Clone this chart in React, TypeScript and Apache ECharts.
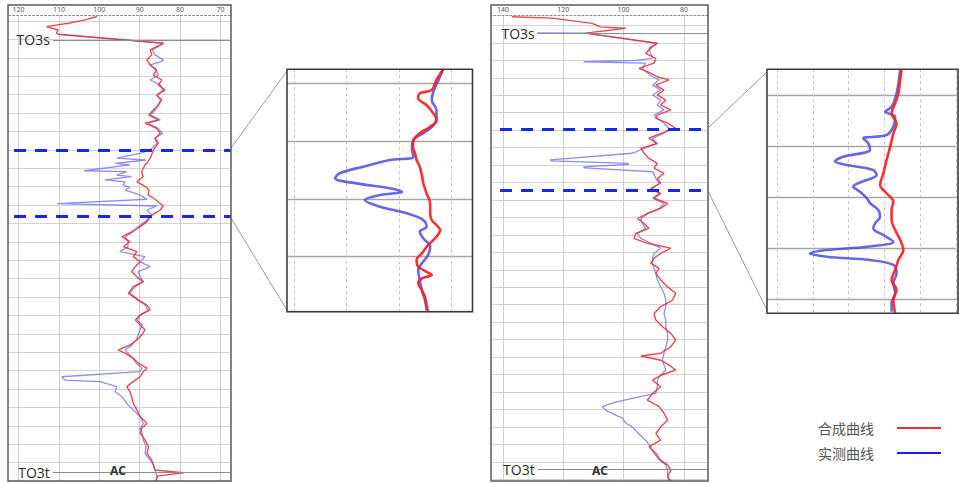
import { useEffect, useRef } from 'react';
import * as echarts from 'echarts';

// Well A (left log): [depth m below window top, AC]
const wellASynthetic: [number, number][] = [
  [0.5, 100.6], [1.6, 103.5], [2.6, 107.3], [3.8, 113.1], [4.9, 110.2], [5.9, 110.6], [6.3, 110.2],
  [9.2, 84.1], [10.3, 85.8], [11.4, 87.4], [13.0, 87.0], [14.7, 88.2], [15.3, 87.9], [16.3, 87.4],
  [17.9, 85.8], [19.6, 86.6], [21.2, 84.5], [22.8, 85.4], [24.5, 83.7], [26.1, 85.8], [27.7, 84.5],
  [29.4, 85.4], [31.0, 86.6], [32.6, 87.8], [34.2, 85.4], [35.3, 88.7], [37.0, 85.8], [38.6, 84.9],
  [40.2, 86.2], [41.8, 85.4], [44.0, 86.6], [45.1, 86.9], [46.7, 87.4], [47.3, 87.7], [48.4, 88.2],
  [48.9, 88.7], [50.8, 89.4], [51.1, 89.5], [52.2, 89.3], [52.7, 89.1], [53.8, 90.2], [54.4, 90.7],
  [55.5, 89.2], [56.2, 88.4], [57.1, 87.7], [58.7, 87.9], [60.1, 86.2], [61.5, 84.9], [62.3, 84.2],
  [63.6, 84.9], [65.2, 86.9], [67.4, 88.2], [69.1, 89.9], [70.7, 92.0], [72.3, 94.4], [73.9, 92.4],
  [75.6, 94.0], [77.2, 90.7], [78.8, 91.6], [80.5, 89.9], [82.1, 91.1], [83.7, 92.0], [85.4, 90.7],
  [87.0, 89.1], [88.6, 91.6], [90.8, 92.8], [93.0, 90.3], [94.6, 88.2], [96.2, 87.4], [97.9, 89.9],
  [99.5, 91.1], [101.1, 89.9], [102.7, 88.7], [104.4, 89.5], [106.0, 90.7], [107.6, 92.4], [109.3, 95.3],
  [110.3, 93.6], [112.0, 91.6], [113.6, 90.3], [115.2, 88.2], [116.3, 89.1], [118.0, 89.9], [119.6, 91.6],
  [121.2, 93.2], [122.9, 92.4], [124.5, 92.0], [126.7, 91.6], [128.8, 90.7], [131.0, 89.9], [133.2, 88.2],
  [134.8, 89.5], [136.4, 89.9], [138.6, 88.7], [140.8, 87.8], [143.0, 88.2], [145.2, 87.0], [146.8, 86.6],
  [148.4, 86.2], [149.3, 79.2], [150.4, 85.7], [152.0, 85.9],
];

const wellAMeasured: [number, number][] = [
  [6.3, 110.2], [9.2, 84.1], [10.3, 85.4], [11.4, 86.9], [13.0, 86.2], [14.7, 84.1], [15.3, 84.9],
  [16.3, 87.4], [17.9, 85.9], [19.6, 85.4], [21.2, 87.4], [22.8, 84.9], [24.5, 84.2], [26.1, 85.7],
  [27.7, 84.9], [29.4, 85.4], [31.0, 86.2], [32.6, 87.4], [34.2, 84.9], [35.3, 87.9], [37.0, 85.4],
  [38.6, 84.4], [40.2, 86.2], [41.8, 85.7], [44.0, 87.4], [45.1, 89.9], [46.7, 95.7], [47.3, 88.4],
  [48.4, 96.1], [48.9, 92.4], [50.8, 103.8], [51.1, 93.2], [52.2, 95.7], [52.7, 92.0], [53.8, 98.6],
  [54.4, 93.6], [55.5, 94.1], [56.2, 92.4], [57.1, 93.6], [58.7, 89.9], [60.1, 88.2], [61.5, 110.4],
  [62.3, 85.8], [63.6, 88.2], [65.2, 87.0], [67.4, 88.7], [69.1, 90.4], [70.7, 91.6], [72.3, 93.6],
  [73.9, 92.9], [75.6, 92.9], [77.2, 94.9], [78.8, 88.7], [80.5, 89.9], [82.1, 87.4], [83.7, 90.4],
  [85.4, 89.9], [87.0, 89.1], [88.6, 91.1], [90.8, 92.4], [93.0, 90.3], [94.6, 88.7], [96.2, 87.9],
  [97.9, 89.9], [99.5, 90.6], [101.1, 89.4], [102.7, 89.9], [104.4, 90.4], [106.0, 90.9], [107.6, 91.9],
  [109.3, 93.6], [110.3, 92.9], [112.0, 91.6], [113.6, 90.9], [115.2, 89.4], [116.3, 89.9], [118.0, 109.3],
  [119.1, 108.5], [119.6, 99.8], [121.2, 95.7], [122.9, 96.1], [124.5, 94.4], [126.7, 93.2], [128.8, 91.6],
  [131.0, 89.9], [133.2, 89.1], [134.8, 89.9], [136.4, 89.4], [138.6, 89.1], [140.8, 88.4], [143.0, 88.7],
  [145.2, 87.4], [146.8, 86.6], [148.4, 86.2], [150.4, 85.7], [152.0, 85.9],
];

// Well A, enlarged interval between the two marker lines
const wellAZoomSynthetic: [number, number][] = [
  [0, 81.5], [0.74, 82.8], [1.44, 83.7], [1.67, 86.0], [2.01, 86.3], [2.48, 84.7], [3.06, 83.4],
  [3.52, 82.8], [3.99, 84.0], [4.44, 86.0], [4.91, 87.2], [5.38, 87.3], [5.83, 86.9], [6.3, 86.6],
  [6.76, 86.0], [7.34, 85.6], [7.92, 85.3], [8.61, 84.7], [9.31, 84.0], [10.0, 84.0], [10.47, 83.7],
  [10.81, 82.8], [11.16, 82.1], [11.63, 82.8], [12.2, 84.4], [12.78, 85.6], [13.24, 86.6], [13.71, 86.3],
  [14.06, 84.7], [14.29, 83.7], [14.51, 85.6], [14.86, 86.3], [15.33, 85.6], [15.79, 85.0], [16.37, 84.7],
  [16.83, 84.4],
];

const wellAZoomMeasured: [number, number][] = [
  [0, 81.5], [0.74, 82.4], [1.56, 83.4], [2.13, 83.7], [2.83, 82.8], [3.52, 82.8], [4.22, 84.4],
  [4.91, 87.2], [5.49, 87.5], [6.07, 87.2], [6.3, 91.7], [6.76, 96.8], [7.22, 101.3], [7.57, 102.2],
  [7.92, 98.1], [8.26, 91.7], [8.5, 89.4], [8.73, 93.6], [9.08, 96.5], [9.54, 93.6], [10.0, 88.5],
  [10.47, 85.3], [10.93, 84.7], [11.28, 86.0], [11.74, 85.3], [12.32, 84.0], [12.9, 84.4], [13.47, 85.6],
  [13.94, 86.3], [14.63, 86.0], [15.33, 85.6], [16.02, 85.0], [16.72, 84.7],
];

// Well B (right log): [depth m below window top, AC]
const wellBSynthetic: [number, number][] = [
  [0.5, 137.1], [0.9, 123.8], [2.4, 110.4], [3.4, 107.7], [3.8, 99.3], [5.2, 112.7], [8.1, 88.8],
  [9.5, 91.0], [11.0, 92.7], [12.4, 89.3], [13.8, 89.9], [15.3, 94.9], [16.2, 92.1], [17.7, 88.8],
  [18.6, 84.9], [20.1, 89.3], [21.5, 86.6], [22.9, 88.8], [24.4, 86.0], [25.8, 87.7], [27.2, 84.3],
  [28.7, 88.8], [29.6, 89.3], [31.0, 85.4], [32.5, 82.7], [33.9, 87.7], [35.3, 91.6], [36.8, 88.8],
  [38.2, 94.3], [39.6, 93.2], [41.1, 91.6], [42.5, 88.8], [43.9, 89.9], [45.4, 86.6], [46.8, 88.8],
  [48.2, 87.7], [49.7, 91.0], [51.1, 87.7], [52.5, 89.9], [54.0, 85.4], [55.4, 87.7], [56.8, 92.1],
  [58.3, 95.4], [59.7, 93.2], [61.1, 91.6], [62.6, 96.0], [64.0, 96.6], [65.4, 92.1], [66.8, 84.3],
  [68.3, 87.7], [69.7, 89.9], [71.1, 91.0], [72.6, 88.2], [74.0, 89.3], [75.9, 87.7], [77.9, 85.4],
  [79.7, 82.7], [81.7, 83.8], [83.6, 87.7], [85.5, 89.9], [87.4, 89.3], [89.3, 87.1], [91.2, 84.3],
  [93.1, 82.7], [95.0, 84.3], [96.9, 87.7], [97.7, 94.3], [98.9, 87.7], [100.3, 84.9], [101.7, 82.7],
  [103.2, 87.7], [104.6, 90.4], [106.5, 87.7], [108.4, 90.4], [110.3, 92.1], [112.2, 88.2], [114.1, 86.6],
  [116.0, 85.4], [118.0, 87.7], [119.9, 89.3], [121.8, 87.7], [123.7, 91.6], [125.6, 89.3], [127.5, 87.7],
  [128.9, 85.4], [130.4, 84.3], [132.3, 85.4], [133.5, 84.3],
];

const wellBMeasured: [number, number][] = [
  [5.1, 128.7], [5.2, 112.7], [8.1, 88.8], [9.5, 91.6], [11.0, 91.0], [12.4, 90.4], [13.0, 96.0],
  [13.4, 113.3], [13.8, 92.7], [15.3, 93.8], [16.2, 92.7], [17.7, 90.4], [18.6, 88.2], [20.1, 90.4],
  [21.5, 87.7], [22.9, 90.4], [24.4, 87.7], [25.8, 88.8], [27.2, 86.6], [28.7, 89.9], [29.6, 88.8],
  [31.0, 86.6], [32.5, 84.9], [33.9, 86.6], [35.3, 90.4], [36.8, 89.3], [38.2, 93.2], [39.6, 97.1],
  [41.5, 124.3], [41.8, 124.0], [42.5, 98.3], [42.8, 98.4], [43.5, 113.3], [43.8, 113.0], [44.9, 90.3],
  [46.8, 89.3], [48.2, 88.2], [49.7, 90.4], [51.1, 88.2], [52.5, 90.4], [54.0, 86.6], [55.4, 88.2],
  [56.8, 91.6], [58.3, 94.3], [59.7, 93.8], [61.1, 92.7], [62.6, 95.4], [64.0, 94.3], [65.4, 91.0],
  [66.8, 87.7], [68.3, 89.9], [69.7, 90.4], [71.1, 90.4], [72.6, 89.9], [74.0, 89.3], [75.9, 88.8],
  [77.9, 87.7], [79.7, 86.6], [81.7, 86.0], [83.6, 86.0], [85.5, 86.6], [87.4, 86.0], [89.3, 86.0],
  [91.2, 85.4], [93.1, 85.4], [95.0, 86.0], [96.9, 86.6], [98.9, 87.1], [100.3, 86.6], [101.7, 86.0],
  [103.2, 87.7], [104.6, 88.8], [106.5, 88.8], [108.4, 89.3], [109.6, 96.0], [111.0, 103.0], [112.2, 107.1],
  [113.2, 106.0], [114.5, 103.0], [115.5, 100.4], [116.9, 99.3], [118.0, 97.1], [119.9, 95.0], [121.8, 92.7],
  [123.7, 91.0], [125.6, 89.9], [127.5, 88.2], [128.9, 86.0], [130.4, 85.4], [132.3, 85.4], [133.5, 84.9],
];

// Well B, enlarged interval between the two marker lines
const wellBZoomSynthetic: [number, number][] = [
  [0.03, 85.2], [0.42, 85.6], [0.94, 86.1], [1.33, 87.0], [1.73, 88.0], [2.12, 86.6], [2.51, 87.5],
  [3.04, 88.4], [3.56, 89.4], [4.08, 90.3], [4.54, 91.2], [4.86, 89.4], [5.19, 87.5], [5.52, 88.0],
  [5.91, 88.0], [6.3, 87.0], [6.69, 85.6], [7.09, 84.7], [7.48, 86.1], [7.87, 87.0], [8.26, 88.0],
  [8.65, 86.6], [9.05, 87.5], [9.57, 87.0],
];

const wellBZoomMeasured: [number, number][] = [
  [0.03, 85.6], [0.94, 86.6], [1.47, 88.0], [1.66, 89.8], [1.86, 87.0], [2.25, 87.5], [2.58, 89.4],
  [2.71, 95.9], [2.9, 94.5], [3.16, 94.0], [3.43, 101.5], [3.62, 103.8], [3.75, 100.5], [3.95, 93.1],
  [4.15, 92.2], [4.41, 96.3], [4.6, 98.7], [4.8, 96.8], [5.06, 94.9], [5.25, 94.0], [5.52, 91.7],
  [5.78, 91.2], [6.04, 92.6], [6.24, 93.1], [6.5, 90.3], [6.76, 87.5], [6.96, 94.9], [7.09, 106.1],
  [7.22, 110.8], [7.35, 106.1], [7.48, 94.0], [7.67, 87.5], [8.0, 86.6], [8.39, 87.5], [8.78, 87.0],
  [9.18, 88.0], [9.51, 88.0],
];

// Formation tops and the enlarged interval of each well
const wellATops = [{ name: 'TO3s', depth: 8.15 }, { name: 'TO3t', depth: 149.1 }];
const wellBTops = [{ name: 'TO3s', depth: 5.16 }, { name: 'TO3t', depth: 130.1 }];
const wellAWindow = [44.26, 65.79];
const wellBWindow = [32.75, 50.34];

// AC tick labels along the top of each log
const wellATicks = [70, 80, 90, 100, 110, 120];
const wellBTicks = [80, 100, 120, 140];

const SYN = '合成曲线';
const MEAS = '实测曲线';

const FONT = '"Noto Sans", "Noto Sans CJK SC", "DejaVu Sans", sans-serif';
const CJK = '"Noto Sans CJK SC", "Noto Sans", sans-serif';
const HIDDEN = 'rgba(0,0,0,0)';

// splitLine colours cycle per tick, so only every n-th tick shows a line
const cycle = (n: number, on: number, color: string) =>
  Array.from({ length: n }, (_, i) => (i === on ? color : HIDDEN));

const toXY = (rows: [number, number][]) => rows.map(([d, v]) => [v, d]);

const windowStyle = { color: '#1428f0', width: 3, type: [12, 9] as number[] };
const topStyle = { color: '#8c8c8c', width: 1.2, type: 'solid' as const };

// Interval markers (dashed blue) and formation tops for one log
function markers(
  tops: { name: string; depth: number }[],
  windows: number[],
  windowStart: number,
  topStart: number,
  lineEnd: number,
) {
  return {
    silent: true,
    symbol: ['none', 'none'],
    animation: false,
    data: [
      ...windows.map((d) => [
        { coord: [windowStart, d], lineStyle: windowStyle, label: { show: false } },
        { coord: [lineEnd, d] },
      ]),
      ...tops.map((t) => [
        {
          coord: [topStart, t.depth],
          lineStyle: topStyle,
          label: {
            show: true,
            position: 'start',
            distance: 3,
            formatter: t.name,
            color: '#2a2a2a',
            fontSize: 14,
            fontFamily: '"Open Sans", "Noto Sans", sans-serif',
          },
        },
        { coord: [lineEnd, t.depth] },
      ]),
    ],
  };
}

function curve(
  name: string,
  rows: [number, number][],
  idx: number,
  color: string,
  legendColor: string,
  width: number,
  smooth: number | boolean,
  z: number,
  markLine?: any,
) {
  return {
    name,
    type: 'line',
    xAxisIndex: idx,
    yAxisIndex: idx,
    data: toXY(rows),
    showSymbol: false,
    symbol: 'none',
    smooth,
    silent: true,
    z,
    itemStyle: { color: legendColor },
    lineStyle: { color, width },
    emphasis: { disabled: true },
    markLine,
  };
}

const RED = '#ff2a2a';
const BLUE = '#1a1aff';

const option: any = {
  animation: false,
  backgroundColor: '#ffffff',
  textStyle: { fontFamily: FONT },
  legend: {
    data: [SYN, MEAS],
    orient: 'vertical',
    left: 813,
    top: 416,
    align: 'right',
    icon: 'rect',
    itemWidth: 44,
    itemHeight: 2,
    itemGap: 11,
    selectedMode: false,
    textStyle: { fontSize: 14, color: '#555', fontFamily: CJK, padding: [0, 18, 0, 0] },
  },
  grid: [
    { left: 8.4, top: 15, width: 222.2, height: 466, outerBoundsMode: 'none' },
    { left: 287, top: 69.3, width: 185, height: 242.4, outerBoundsMode: 'none' },
    { left: 491, top: 15, width: 217, height: 466, outerBoundsMode: 'none' },
    { left: 767, top: 69.3, width: 189, height: 244, outerBoundsMode: 'none' },
  ],
  xAxis: [
    {
      gridIndex: 0, type: 'value', position: 'top', inverse: true, min: 67.5, max: 122.5, interval: 2.5,
      axisLine: { show: true, lineStyle: { color: '#8a8a8a', width: 1, type: [2, 2] } },
      axisTick: { show: false },
      axisLabel: {
        show: true, margin: 2, fontSize: 7, color: '#555',
        formatter: (v: number) => (wellATicks.includes(Math.round(v * 10) / 10) ? String(v) : ''),
      },
      splitLine: { show: true, lineStyle: { color: cycle(4, 1, '#cdcdcd'), width: 1 } },
    },
    {
      gridIndex: 1, type: 'value', inverse: true, min: 76, max: 111.4, interval: 2,
      axisLine: { show: false }, axisTick: { show: false }, axisLabel: { show: false },
      splitLine: { show: true, lineStyle: { color: cycle(5, 2, '#c2c2c2'), width: 1, type: [3, 3] } },
    },
    {
      gridIndex: 2, type: 'value', position: 'top', inverse: true, min: 72, max: 144, interval: 4,
      axisLine: { show: true, lineStyle: { color: '#8a8a8a', width: 1, type: [2, 2] } },
      axisTick: { show: false },
      axisLabel: {
        show: true, margin: 2, fontSize: 7, color: '#555',
        formatter: (v: number) => (wellBTicks.includes(Math.round(v)) ? String(v) : ''),
      },
      splitLine: { show: true, lineStyle: { color: cycle(5, 2, '#cdcdcd'), width: 1 } },
    },
    {
      gridIndex: 3, type: 'value', inverse: true, min: 70, max: 122.8, interval: 2.5,
      axisLine: { show: false }, axisTick: { show: false }, axisLabel: { show: false },
      splitLine: { show: true, lineStyle: { color: cycle(4, 0, '#c2c2c2'), width: 1, type: [3, 3] } },
    },
  ],
  yAxis: [
    {
      gridIndex: 0, type: 'value', inverse: true, min: 0, max: 152, interval: 2,
      axisLine: { show: false }, axisTick: { show: false }, axisLabel: { show: false },
      splitLine: { show: true, lineStyle: { color: cycle(3, 1, '#d3d3d3'), width: 1 } },
    },
    {
      gridIndex: 1, type: 'value', inverse: true, min: 0, max: 16.83, interval: 1,
      axisLine: { show: false }, axisTick: { show: false }, axisLabel: { show: false },
      splitLine: { show: true, lineStyle: { color: cycle(4, 1, '#a6a6a6'), width: 1.4 } },
    },
    {
      gridIndex: 2, type: 'value', inverse: true, min: 0, max: 133.5, interval: 1,
      axisLine: { show: false }, axisTick: { show: false }, axisLabel: { show: false },
      splitLine: { show: true, lineStyle: { color: cycle(5, 3, '#d3d3d3'), width: 1 } },
    },
    {
      gridIndex: 3, type: 'value', inverse: true, min: 0, max: 9.57, interval: 1,
      axisLine: { show: false }, axisTick: { show: false }, axisLabel: { show: false },
      splitLine: { show: true, lineStyle: { color: cycle(2, 1, '#a6a6a6'), width: 1.4 } },
    },
  ],
  series: [
    curve(MEAS, wellAMeasured, 0, 'rgba(112,112,245,0.8)', BLUE, 1.3, false, 2),
    curve(SYN, wellASynthetic, 0, 'rgba(240,45,50,0.88)', RED, 1.4, false, 3,
      markers(wellATops, wellAWindow, 121.1, 111.5, 67.5)),
    curve(MEAS, wellAZoomMeasured, 1, 'rgba(75,75,232,0.85)', BLUE, 2.6, 0.35, 2),
    curve(SYN, wellAZoomSynthetic, 1, 'rgba(255,30,30,0.92)', RED, 2.6, 0.35, 3),
    curve(MEAS, wellBMeasured, 2, 'rgba(112,112,245,0.8)', BLUE, 1.3, false, 2),
    curve(SYN, wellBSynthetic, 2, 'rgba(240,45,50,0.88)', RED, 1.4, false, 3,
      markers(wellBTops, wellBWindow, 141, 128.5, 72)),
    curve(MEAS, wellBZoomMeasured, 3, 'rgba(75,75,232,0.85)', BLUE, 2.6, 0.35, 2),
    curve(SYN, wellBZoomSynthetic, 3, 'rgba(255,30,30,0.92)', RED, 2.6, 0.35, 3),
  ],
  graphic: [
    // connectors from each log to its enlarged view
    { type: 'line', z: 50, shape: { x1: 231, y1: 148, x2: 287, y2: 71 }, style: { stroke: '#9a9a9a', lineWidth: 1 } },
    { type: 'line', z: 50, shape: { x1: 231, y1: 218, x2: 287, y2: 310 }, style: { stroke: '#9a9a9a', lineWidth: 1 } },
    { type: 'line', z: 50, shape: { x1: 708, y1: 128, x2: 767, y2: 72 }, style: { stroke: '#9a9a9a', lineWidth: 1 } },
    { type: 'line', z: 50, shape: { x1: 708, y1: 191, x2: 767, y2: 310 }, style: { stroke: '#9a9a9a', lineWidth: 1 } },
    // frames
    { type: 'rect', z: 100, shape: { x: 8, y: 5, width: 223, height: 476 }, style: { fill: 'none', stroke: '#5a5a5a', lineWidth: 1.5 } },
    { type: 'rect', z: 100, shape: { x: 491, y: 5, width: 217, height: 476 }, style: { fill: 'none', stroke: '#5a5a5a', lineWidth: 1.5 } },
    { type: 'rect', z: 100, shape: { x: 287, y: 69.3, width: 185.5, height: 242.4 }, style: { fill: 'none', stroke: '#3c3c3c', lineWidth: 1.6 } },
    { type: 'rect', z: 100, shape: { x: 767, y: 69.3, width: 191, height: 244 }, style: { fill: 'none', stroke: '#3c3c3c', lineWidth: 1.6 } },
    // curve mnemonic
    { type: 'text', z: 100, x: 118, y: 470, style: { text: 'AC', fontSize: 12, fontWeight: 'bold', fill: '#333', align: 'center', verticalAlign: 'middle', fontFamily: FONT } },
    { type: 'text', z: 100, x: 600, y: 470, style: { text: 'AC', fontSize: 12, fontWeight: 'bold', fill: '#333', align: 'center', verticalAlign: 'middle', fontFamily: FONT } },
  ],
};

export default function App() {
  const ref = useRef<HTMLDivElement>(null);
  useEffect(() => {
    if (!ref.current) return;
    const chart = echarts.init(ref.current, null, { renderer: 'svg' });
    chart.setOption(option);
    return () => chart.dispose();
  }, []);
  return (
    <div
      ref={ref}
      style={{ position: 'fixed', left: 0, top: 0, width: 959, height: 483, background: '#fff' }}
    />
  );
}
